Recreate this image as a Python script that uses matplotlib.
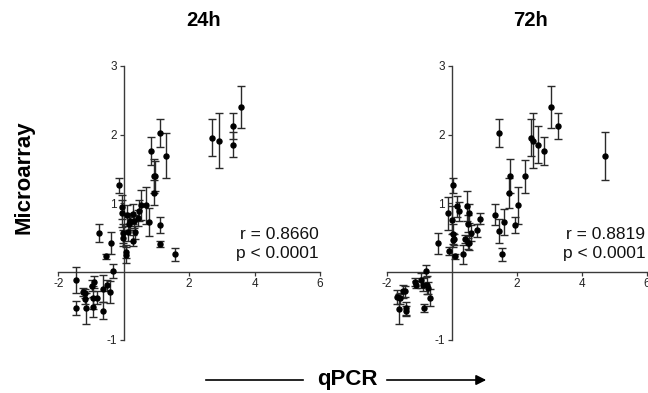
import matplotlib
matplotlib.use("Agg")
import matplotlib.pyplot as plt

plt.rcParams["font.family"] = ["Liberation Sans", "DejaVu Sans"]

# ---- Data (qPCR log ratio vs microarray log ratio, mean +/- err) ----------

x24 = [3.58, 3.34, 3.34, 2.69, 2.90, 1.10, 1.30, 0.83, 0.94, 0.97, 0.93, -0.15,
       1.12, 1.12, 1.56, 0.68, 0.78, 0.52, 0.48, 0.45, 0.29, 0.09, -0.06, -0.05,
       -0.03, -0.01, 0.15, 0.13, 0.19, 0.30, 0.33, 0.28, 0.07, 0.06, -0.77, -0.39,
       -0.53, -0.32, -1.47, -1.45, -1.23, -1.18, -1.17, -1.14, -0.98, -0.92, -0.95,
       -0.95, -0.83, -0.64, -0.64, -0.51, -0.42]
y24 = [2.40, 2.13, 1.85, 1.95, 1.91, 2.02, 1.69, 1.76, 1.39, 1.39, 1.15, 1.26,
       0.68, 0.40, 0.25, 0.97, 0.72, 0.97, 0.89, 0.78, 0.84, 0.82, 0.94, 0.85,
       0.56, 0.49, 0.70, 0.57, 0.73, 0.73, 0.57, 0.45, 0.29, 0.24, 0.56, 0.41,
       0.22, 0.01, -0.13, -0.53, -0.30, -0.32, -0.40, -0.54, -0.21, -0.15, -0.38,
       -0.52, -0.38, -0.25, -0.57, -0.20, -0.30]
e24 = [0.31, 0.19, 0.18, 0.27, 0.40, 0.20, 0.33, 0.21, 0.25, 0.22, 0.18, 0.11,
       0.12, 0.04, 0.10, 0.27, 0.20, 0.22, 0.15, 0.12, 0.14, 0.15, 0.17, 0.20,
       0.14, 0.12, 0.10, 0.12, 0.12, 0.10, 0.10, 0.08, 0.10, 0.12, 0.13, 0.16,
       0.04, 0.10, 0.19, 0.10, 0.06, 0.06, 0.08, 0.22, 0.08, 0.09, 0.17,
       0.15, 0.10, 0.20, 0.13, 0.08, 0.16]

x72 = [3.04, 3.28, 4.72, 1.45, 2.45, 2.49, 2.65, 2.83, 2.26, 1.78, 1.75, 2.03,
       1.94, 1.62, 1.34, 1.44, 1.54, 0.05, -0.12, 0.16, 0.21, 0.02, 0.03, 0.03,
       0.07, -0.08, 0.10, -0.41, 0.46, 0.52, 0.51, 0.50, 0.54, 0.58, 0.42, 0.36,
       0.77, 0.86, -0.79, -1.14, -1.09, -0.94, -0.88, -0.75, -0.72, -0.67, -0.86,
       -1.67, -1.60, -1.61, -1.49, -1.45, -1.42, -1.41]
y72 = [2.40, 2.13, 1.69, 2.02, 1.95, 1.91, 1.85, 1.76, 1.39, 1.39, 1.15, 0.97,
       0.68, 0.72, 0.83, 0.59, 0.25, 1.26, 0.85, 0.95, 0.88, 0.75, 0.55, 0.46,
       0.47, 0.30, 0.22, 0.41, 0.95, 0.85, 0.70, 0.41, 0.42, 0.56, 0.48, 0.25,
       0.60, 0.77, 0.01, -0.15, -0.19, -0.13, -0.19, -0.20, -0.24, -0.38, -0.53,
       -0.37, -0.39, -0.55, -0.29, -0.29, -0.54, -0.58]
e72 = [0.31, 0.19, 0.35, 0.20, 0.27, 0.40, 0.27, 0.21, 0.24, 0.25, 0.22, 0.27,
       0.12, 0.19, 0.15, 0.17, 0.10, 0.11, 0.24, 0.15, 0.14, 0.20, 0.15, 0.10,
       0.08, 0.06, 0.04, 0.15, 0.22, 0.14, 0.12, 0.08, 0.10, 0.12, 0.06, 0.14,
       0.10, 0.08, 0.09, 0.06, 0.05, 0.11, 0.10, 0.13, 0.09, 0.12, 0.06,
       0.10, 0.08, 0.22, 0.10, 0.08, 0.10, 0.07]

panels = [
    ("24h", x24, y24, e24, "r = 0.8660", "p < 0.0001"),
    ("72h", x72, y72, e72, "r = 0.8819", "p < 0.0001"),
]
xticks = [-2, 2, 4, 6]
yticks = [-1, 1, 2, 3]

# ---- Figure ----------------------------------------------------------------

W, H = 648, 393
fig = plt.figure(figsize=(W / 100, H / 100), dpi=100)

# axes boxes in pixels: (left, right) for x in [-2, 6]; y in [-1, 3] -> 340..66
boxes = [(58.3, 320.0), (386.7, 647.0)]
title_x = [204, 531]
y_top, y_bot = 66, 340

line_c = "#3a3a3a"
for (title, xs, ys, es, rtxt, ptxt), (l, r), tx in zip(panels, boxes, title_x):
    ax = fig.add_axes([l / W, 1 - y_bot / H, (r - l) / W, (y_bot - y_top) / H])
    ax.set_xlim(-2, 6)
    ax.set_ylim(-1, 3)
    ax.patch.set_visible(False)

    ax.errorbar(xs, ys, yerr=es, fmt="o", color="black", ms=3.6,
                ecolor="#2a2a2a", elinewidth=1.0, capsize=2.6, capthick=1.0,
                zorder=3)

    for side in ("top", "right"):
        ax.spines[side].set_visible(False)
    ax.spines["left"].set_position(("data", 0))
    ax.spines["bottom"].set_position(("data", 0))
    for side in ("left", "bottom"):
        ax.spines[side].set_color(line_c)
        ax.spines[side].set_linewidth(1.0)

    ax.set_xticks(xticks)
    ax.set_yticks(yticks)
    ax.set_xticklabels([str(t) for t in xticks])
    ax.set_yticklabels([str(t) for t in yticks])
    ax.tick_params(direction="out", length=3, width=0.9, color=line_c,
                   labelsize=8.5, labelcolor="#222222", pad=2)

    ax.text(5.95, 0.54, rtxt, ha="right", va="center", fontsize=12.5, color="#111111")
    ax.text(5.95, 0.26, ptxt, ha="right", va="center", fontsize=12.5, color="#111111")

    fig.text(tx / W, 1 - 20 / H, title, ha="center", va="center",
             fontsize=14.5, fontweight="bold")

fig.text(24 / W, 1 - 177 / H, "Microarray", rotation=90, ha="center",
         va="center", fontsize=16, fontweight="bold")
fig.text(347 / W, 1 - 380 / H, "qPCR", ha="center", va="center",
         fontsize=16, fontweight="bold")

ya = 1 - 380 / H
fig.add_artist(plt.Line2D([206 / W, 303 / W], [ya, ya], color="black", lw=1.2))
fig.add_artist(matplotlib.patches.FancyArrowPatch(
    (384 / W, ya), (489 / W, ya), transform=fig.transFigure,
    arrowstyle="-|>,head_length=6,head_width=3", color="black", lw=1.2,
    mutation_scale=1))

fig.savefig("out.png", dpi=100)
